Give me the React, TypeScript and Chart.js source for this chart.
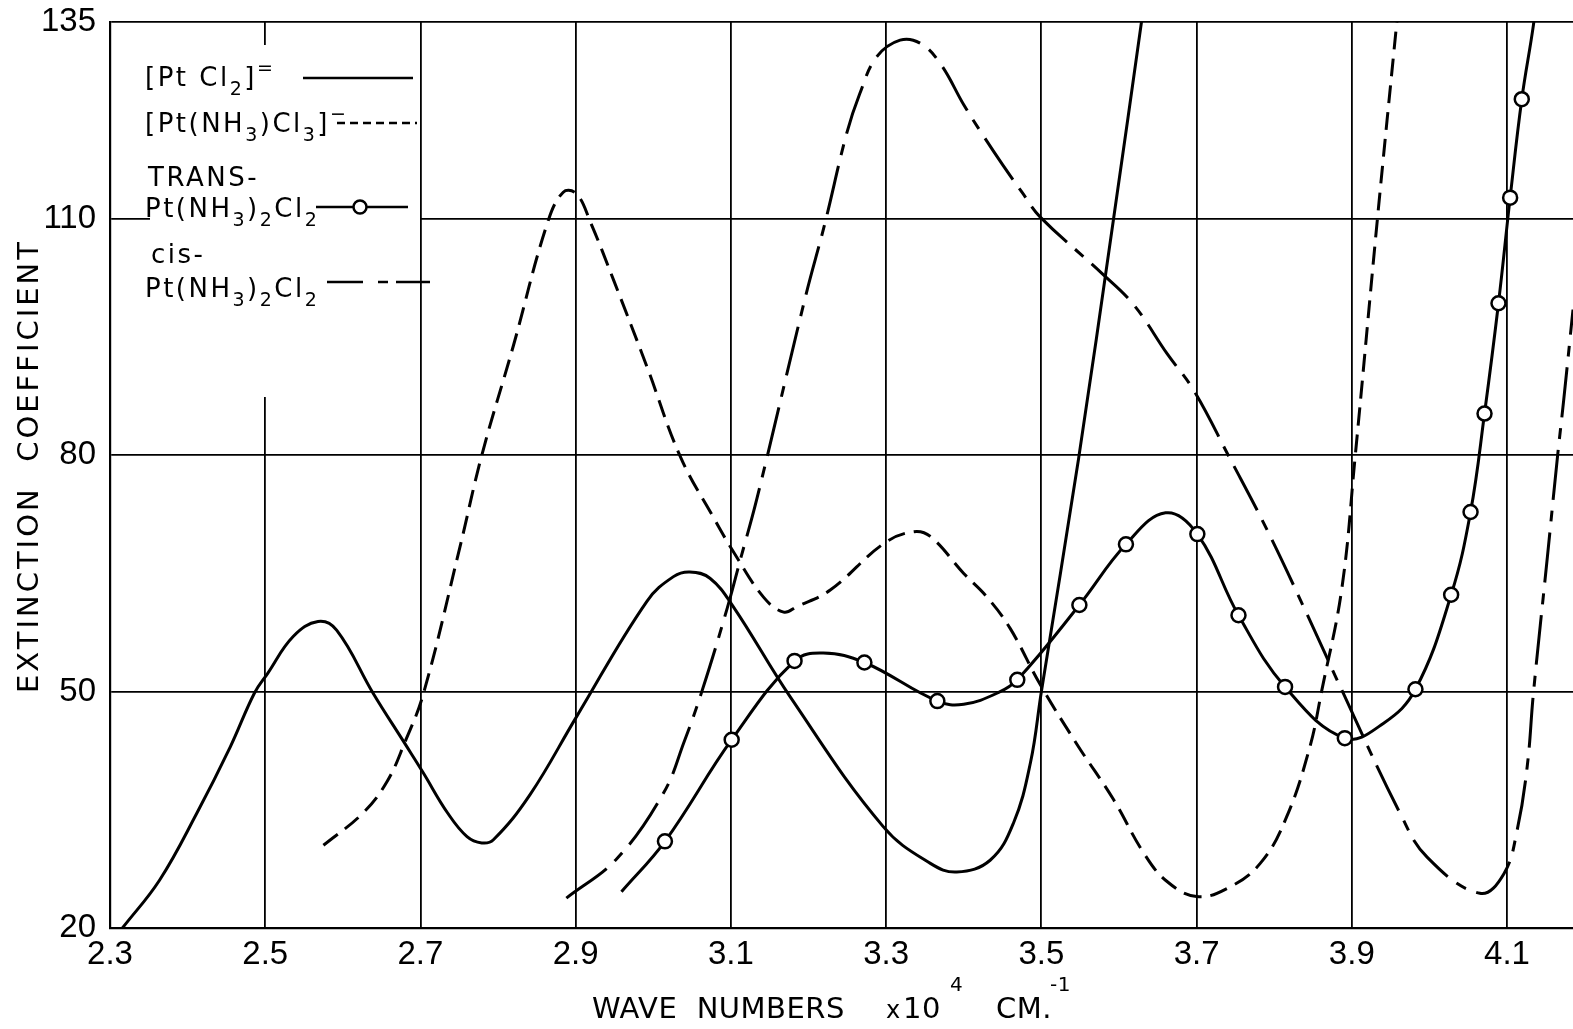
import React, { useEffect, useRef } from "react";
import { Chart, registerables } from "chart.js";
Chart.register(...registerables);

const W = 1573;
const H = 1029;

const xTicks = [2.3, 2.5, 2.7, 2.9, 3.1, 3.3, 3.5, 3.7, 3.9, 4.1];
const yTicks = [20, 50, 80, 110, 135];

// [PtCl2]=  (solid)
const ptcl2X = [2.316, 2.364, 2.412, 2.455, 2.486, 2.503, 2.536, 2.568, 2.592, 2.639, 2.68, 2.703, 2.735, 2.76, 2.779, 2.794, 2.841, 2.901, 2.992, 3.026, 3.047, 3.073, 3.103, 3.176, 3.296, 3.357, 3.391, 3.434, 3.464, 3.486, 3.5, 3.548, 3.593, 3.629, 3.633];
const ptcl2Y = [20.0, 26.1, 34.6, 43.0, 49.8, 52.3, 57.0, 58.9, 57.8, 49.8, 43.4, 39.8, 34.6, 31.6, 30.8, 31.2, 36.9, 46.8, 61.5, 64.6, 65.2, 64.4, 60.8, 49.4, 32.9, 28.2, 27.1, 28.6, 33.3, 41.0, 50.0, 79.6, 110.0, 135.0, 138];

// [Pt(NH3)Cl3]-  (short dashes)
const monoX = [2.575, 2.626, 2.657, 2.68, 2.704, 2.751, 2.779, 2.82, 2.863, 2.884, 2.901, 2.919, 2.949, 2.992, 3.035, 3.077, 3.103, 3.142, 3.168, 3.185, 3.228, 3.297, 3.335, 3.357, 3.4, 3.43, 3.46, 3.498, 3.546, 3.593, 3.632, 3.662, 3.7, 3.739, 3.782, 3.816, 3.846, 3.861, 3.887, 3.904, 3.933, 3.958, 3.961];
const monoY = [30.5, 34.6, 38.6, 43.6, 49.8, 68.4, 80.0, 94.0, 109.3, 113.4, 113.2, 109.6, 102.2, 91.2, 79.8, 72.2, 67.8, 62.0, 60.1, 60.8, 62.9, 68.8, 70.3, 69.7, 65.0, 62.0, 58.0, 51.0, 43.3, 36.3, 29.5, 25.9, 24.0, 25.0, 28.2, 34.1, 43.0, 50.0, 63.0, 79.5, 110.0, 135.0, 138];

// TRANS-Pt(NH3)2Cl2  (solid with open circles)
const transX = [2.959, 3.015, 3.101, 3.182, 3.219, 3.272, 3.366, 3.4, 3.445, 3.469, 3.549, 3.609, 3.66, 3.701, 3.754, 3.814, 3.891, 3.941, 3.982, 4.028, 4.053, 4.071, 4.089, 4.104, 4.119, 4.134, 4.136];
const transY = [24.6, 31.0, 43.9, 53.9, 54.9, 53.7, 48.8, 48.4, 49.9, 51.5, 61.0, 68.7, 72.7, 70.0, 59.7, 50.6, 44.1, 46.0, 50.3, 62.3, 72.8, 85.3, 99.3, 112.7, 125.2, 134.6, 137];
const transMarker = [0, 1, 1, 1, 0, 1, 1, 0, 0, 1, 1, 1, 0, 1, 1, 1, 1, 0, 1, 1, 1, 1, 1, 1, 1, 0, 0];

// cis-Pt(NH3)2Cl2  (long dash - short dash)
const cisX = [2.888, 2.953, 3.013, 3.04, 3.0625, 3.095, 3.112, 3.133, 3.196, 3.221, 3.249, 3.266, 3.288, 3.318, 3.344, 3.37, 3.4, 3.425, 3.45, 3.475, 3.498, 3.578, 3.619, 3.662, 3.696, 3.743, 3.791, 3.842, 3.889, 3.962, 3.997, 4.065, 4.096, 4.113, 4.126, 4.134, 4.152, 4.165, 4.173, 4.185];
const cisY = [23.8, 28.8, 37.1, 43.7, 50.0, 60.5, 66.7, 74.3, 100.1, 109.4, 120.8, 125.9, 130.6, 132.7, 132.3, 129.7, 124.5, 120.6, 116.9, 113.4, 110.3, 103.1, 99.1, 92.9, 88.3, 79.6, 70.5, 59.9, 49.8, 34.6, 29.0, 24.4, 26.9, 32.4, 40.5, 49.8, 67.1, 79.8, 87.0, 98.5];

const FONT = '"DejaVu Sans", "Liberation Sans", sans-serif';
const TICKFONT = '"Liberation Sans Narrow", "Liberation Sans", sans-serif';

function pts(xs: number[], ys: number[]) {
  return xs.map((x, i) => ({ x, y: ys[i] }));
}

type Part = [string, "n" | "sub" | "sup"];

function rich(ctx: CanvasRenderingContext2D, parts: Part[], x: number, y: number, base: number) {
  let cx = x;
  for (const [t, k] of parts) {
    const size = k === "n" ? base : Math.round(base * 0.74);
    ctx.font = `${size}px ${FONT}`;
    const dy = k === "sub" ? base * 0.34 : k === "sup" ? -base * 0.45 : 0;
    ctx.fillText(t, cx, y + dy);
    cx += ctx.measureText(t).width;
  }
  return cx;
}

function seg(ctx: CanvasRenderingContext2D, x1: number, x2: number, y: number, dash: number[]) {
  ctx.save();
  ctx.setLineDash(dash);
  ctx.lineWidth = 2.5;
  ctx.strokeStyle = "#000";
  ctx.beginPath();
  ctx.moveTo(x1, y);
  ctx.lineTo(x2, y);
  ctx.stroke();
  ctx.restore();
}

const decorPlugin = {
  id: "decor",
  afterDraw(chart: any) {
    const ctx: CanvasRenderingContext2D = chart.ctx;
    ctx.save();
    // legend box
    ctx.fillStyle = "#fff";
    ctx.fillRect(150, 45, 270, 352);
    ctx.fillStyle = "#000";
    ctx.textAlign = "left";
    ctx.textBaseline = "alphabetic";
    (ctx as any).letterSpacing = "2.5px";
    const fs = 26;
    rich(ctx, [["[Pt Cl", "n"], ["2", "sub"], ["]", "n"], ["=", "sup"]], 145, 86, fs);
    seg(ctx, 303, 413, 78, []);
    rich(ctx, [["[Pt(NH", "n"], ["3", "sub"], [")Cl", "n"], ["3", "sub"], ["]", "n"], ["\u2212", "sup"]], 145, 132, fs);
    seg(ctx, 337, 417, 123, [8, 5]);
    rich(ctx, [["TRANS-", "n"]], 148, 186, fs);
    rich(ctx, [["Pt(NH", "n"], ["3", "sub"], [")", "n"], ["2", "sub"], ["Cl", "n"], ["2", "sub"]], 145, 217, fs);
    seg(ctx, 316, 408, 207, []);
    ctx.beginPath();
    ctx.arc(360, 207, 6.5, 0, Math.PI * 2);
    ctx.fillStyle = "#fff";
    ctx.fill();
    ctx.lineWidth = 2.5;
    ctx.strokeStyle = "#000";
    ctx.stroke();
    ctx.fillStyle = "#000";
    rich(ctx, [["cis-", "n"]], 151, 263, fs);
    rich(ctx, [["Pt(NH", "n"], ["3", "sub"], [")", "n"], ["2", "sub"], ["Cl", "n"], ["2", "sub"]], 145, 297, fs);
    seg(ctx, 327, 363, 282, []);
    seg(ctx, 378, 388, 282, []);
    seg(ctx, 396, 430, 282, []);

    // x title
    (ctx as any).letterSpacing = "0.5px";
    ctx.font = `29px ${FONT}`;
    ctx.fillText("WAVE  NUMBERS", 592, 1018);
    ctx.font = `24px ${FONT}`;
    ctx.fillText("x", 886, 1018);
    ctx.font = `29px ${FONT}`;
    ctx.fillText("10", 903, 1018);
    ctx.font = `20px ${FONT}`;
    ctx.fillText("4", 950, 991);
    ctx.font = `29px ${FONT}`;
    ctx.fillText("CM.", 996, 1018);
    ctx.font = `20px ${FONT}`;
    ctx.fillText("-1", 1050, 991);

    // y title
    ctx.translate(30, 466);
    ctx.rotate(-Math.PI / 2);
    ctx.textAlign = "center";
    ctx.textBaseline = "middle";
    (ctx as any).letterSpacing = "3px";
    ctx.font = `29px ${FONT}`;
    ctx.fillText("EXTINCTION  COEFFICIENT", 0, 0);
    ctx.restore();
  },
};

export default function App() {
  const ref = useRef<HTMLCanvasElement | null>(null);
  useEffect(() => {
    if (!ref.current) return;
    const line = {
      borderColor: "#000",
      borderWidth: 3,
      pointRadius: 0,
      tension: 0.4,
      fill: false,
    };
    const chart = new Chart(ref.current, {
      type: "line",
      data: {
        datasets: [
          {
            ...line,
            label: "TRANS-Pt(NH3)2Cl2",
            data: pts(transX, transY),
            pointRadius: (c: any) => (transMarker[c.dataIndex] ? 7 : 0),
            pointBackgroundColor: "#fff",
            pointBorderColor: "#000",
            pointBorderWidth: 2.5,
          },
          { ...line, label: "[PtCl2]=", data: pts(ptcl2X, ptcl2Y) },
          { ...line, label: "[Pt(NH3)Cl3]-", data: pts(monoX, monoY), borderDash: [18, 9] },
          { ...line, label: "cis-Pt(NH3)2Cl2", data: pts(cisX, cisY), borderDash: [50, 11, 11, 11] },
        ] as any,
      },
      options: {
        responsive: false,
        animation: false,
        devicePixelRatio: 1,
        layout: { padding: { top: 22, right: 0, left: 0, bottom: 0 } },
        plugins: { legend: { display: false }, tooltip: { enabled: false }, title: { display: false } },
        scales: {
          x: {
            type: "linear",
            min: 2.3,
            max: 4.185,
            afterBuildTicks: (s: any) => {
              s.ticks = xTicks.map((v) => ({ value: v }));
            },
            afterFit: (s: any) => {
              s.height = 101;
            },
            grid: { color: "#000", lineWidth: 1.8, drawTicks: false },
            border: { display: true, color: "#000", width: 2.2 },
            ticks: {
              color: "#000",
              font: { family: TICKFONT, size: 33, lineHeight: 1 },
              padding: 10,
              maxRotation: 0,
              autoSkip: false,
              callback: (v: any) => Number(v).toFixed(1),
            },
          },
          y: {
            type: "linear",
            min: 20,
            max: 135,
            afterBuildTicks: (s: any) => {
              s.ticks = yTicks.map((v) => ({ value: v }));
            },
            afterFit: (s: any) => {
              s.width = 110;
            },
            grid: { color: "#000", lineWidth: 1.8, drawTicks: false },
            border: { display: true, color: "#000", width: 2.2 },
            ticks: {
              color: "#000",
              font: { family: TICKFONT, size: 33, lineHeight: 0.2 },
              padding: 14,
              autoSkip: false,
              callback: (v: any) => String(v),
            },
          },
        },
      },
      plugins: [decorPlugin],
    } as any);
    return () => chart.destroy();
  }, []);
  return (
    <div style={{ position: "absolute", left: 0, top: 0, width: W, height: H, background: "#fff" }}>
      <canvas ref={ref} width={W} height={H} style={{ width: W, height: H, display: "block" }} />
    </div>
  );
}
